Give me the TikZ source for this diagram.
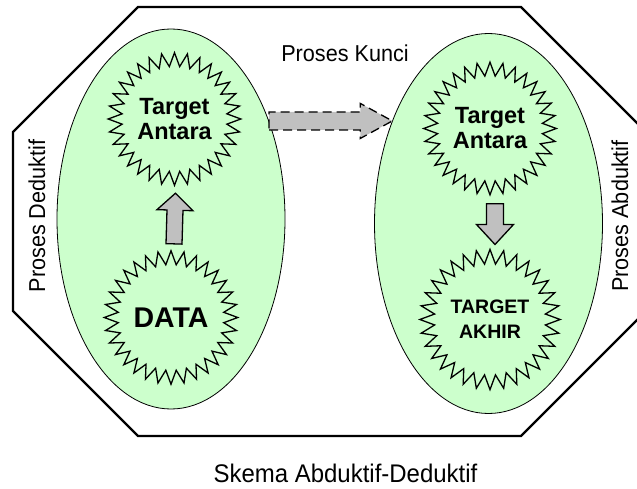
\documentclass[tikz,border=0pt]{standalone}
\usepackage{fontspec}
\setmainfont{Liberation Sans}
\newfontfamily\hurufsempit[FakeStretch=0.94]{Liberation Sans}
\usetikzlibrary{shapes.geometric,calc}

\definecolor{hijaumuda}{HTML}{CCFFCC}
\definecolor{abuabu}{HTML}{C0C0C0}

\tikzset{
	lingkup/.style={ellipse, draw, fill=hijaumuda, line width=0.8pt, minimum width=228pt, minimum height=380pt},
	bintang/.style={star, star points=32, star point ratio=1.26, draw, line width=1.3pt,
		minimum size=116pt, inner sep=0pt, align=center, font=\bfseries\fontsize{23.5}{25}\selectfont},
	blok/.style={draw, fill=abuabu, line width=1.3pt, line join=miter},
	keterangan/.style={font=\hurufsempit\fontsize{23}{27}\selectfont, anchor=base}
}

% panah blok: [gaya]{dari}{ke}{setengah batang}{setengah kepala}{panjang kepala}
\newcommand\panahblok[6][]{%
	\draw[blok,#1] let \p1=(#2), \p2=(#3),
		\n1={atan2(\y2-\y1,\x2-\x1)}, \n2={veclen(\x2-\x1,\y2-\y1)} in
		{[shift={(\p1)},rotate=\n1]
		(0pt,-#4pt) -- (\n2-#6pt,-#4pt) -- (\n2-#6pt,-#5pt) -- (\n2,0pt)
		-- (\n2-#6pt,#5pt) -- (\n2-#6pt,#4pt) -- (0pt,#4pt) -- cycle};
}

\begin{document}
\begin{tikzpicture}[x=1pt,y=-1pt]
\useasboundingbox (0,0) rectangle (637,489);

%bingkai segi delapan
\draw[line width=2.4pt] (138,7) -- (521,7) -- (646,132) -- (646,311) -- (521,436)
	-- (138,436) -- (13,311) -- (13,132) -- cycle;

%dua elips
\node[lingkup] (elkiri) at (171,219) {};
\node[lingkup] (elkanan) at (488.5,223.5) {};

%bintang
\node[bintang] (ta1) at (174.5,119) {Target\\Antara};
\node[bintang, font=\bfseries\fontsize{28.5}{30}\selectfont] (data) at (171,317.5) {DATA};
\node[bintang] (ta2) at (490,128.5) {Target\\Antara};
\node[bintang, font=\bfseries\fontsize{19.5}{25}\selectfont] (akhir) at (490,319.5) {TARGET\\AKHIR};

%panah
\panahblok{[xshift=3pt,yshift=5pt]data.north}{[xshift=1pt,yshift=-6pt]ta1.south}{8}{18}{17}
\panahblok{[xshift=5pt,yshift=-7pt]ta2.south}{[xshift=5pt,yshift=3pt]akhir.north}{8.5}{18.5}{20}
\panahblok[dash pattern=on 9pt off 5pt]{elkiri.45}{elkanan.133 |- elkiri.45}{9}{17.5}{32}

%tulisan
\node[keterangan] (kunci) at (345,62) {Proses Kunci};
\node[keterangan, rotate=90] (deduktif) at (45,216) {Proses Deduktif};
\node[keterangan, rotate=90] (abduktif) at (628,216) {Proses Abduktif};
\node[keterangan, font=\hurufsempit\fontsize{25.5}{30}\selectfont] (skema) at (345.5,482) {Skema Abduktif-Deduktif};
\end{tikzpicture}
\end{document}
